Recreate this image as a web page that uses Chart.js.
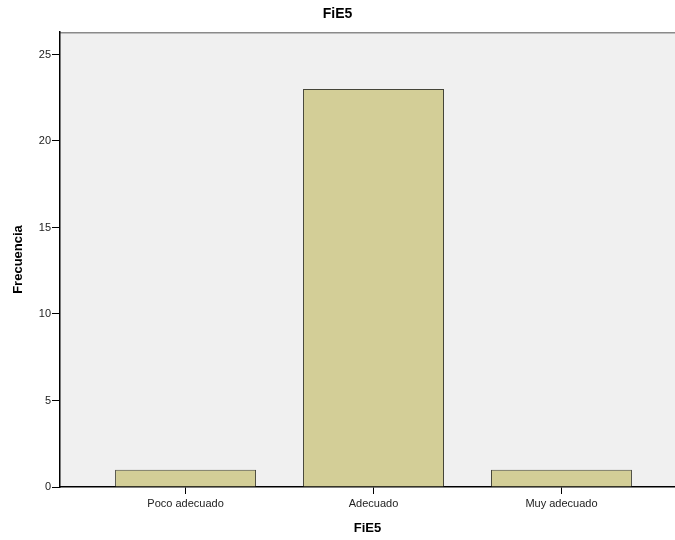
<!DOCTYPE html>
<html>
<head>
<meta charset="utf-8">
<script src="https://cdn.jsdelivr.net/npm/chart.js@4"></script>
<style>
  html, body { margin: 0; padding: 0; background: #fff; }
  #wrap { width: 675px; height: 540px; }
</style>
</head>
<body>
<div id="wrap"><canvas id="fie5Chart" width="675" height="540"></canvas></div>
<script>
const categories = ['Poco adecuado', 'Adecuado', 'Muy adecuado'];
const frecuencias = [1, 23, 1];
const yTicks = [0, 5, 10, 15, 20, 25];

const FONT = '"Liberation Sans", Arial, sans-serif';

// plot background + grey top frame
const plotFrame = {
  id: 'plotFrame',
  beforeDraw(chart) {
    const { ctx, chartArea: a } = chart;
    ctx.save();
    ctx.fillStyle = '#f0f0f0';
    ctx.fillRect(a.left, a.top, a.right - a.left, a.bottom - a.top);
    ctx.strokeStyle = '#8a8a8a';
    ctx.lineWidth = 1.5;
    ctx.beginPath();
    ctx.moveTo(a.left, a.top + 0.75);
    ctx.lineTo(a.right, a.top + 0.75);
    ctx.stroke();
    ctx.restore();
  }
};

const ctx = document.getElementById('fie5Chart').getContext('2d');

new Chart(ctx, {
  type: 'bar',
  data: {
    datasets: [{
      label: 'FiE5',
      data: frecuencias.map((v, i) => ({ x: i, y: v })),
      backgroundColor: '#d3ce97',
      borderColor: '#454539',
      borderWidth: 1,
      barPercentage: 0.75,
      categoryPercentage: 1
    }]
  },
  options: {
    responsive: false,
    animation: false,
    layout: { padding: 0 },
    plugins: {
      legend: { display: false },
      tooltip: { enabled: false },
      title: {
        display: true,
        text: 'FiE5',
        color: '#000',
        font: { family: FONT, size: 14, weight: 'bold' },
        padding: { top: 6, bottom: 9.2 }
      }
    },
    scales: {
      x: {
        type: 'linear',
        min: -0.668,
        max: 2.604,
        offset: false,
        afterBuildTicks: (scale) => {
          scale.ticks = categories.map((c, i) => ({ value: i }));
        },
        afterFit: (scale) => { scale.height = 53; },
        ticks: {
          autoSkip: false,
          maxRotation: 0,
          padding: 3,
          color: '#222',
          font: { family: FONT, size: 11 },
          callback: (value) => categories[value] ?? ''
        },
        grid: { offset: false, drawOnChartArea: false, drawTicks: true, tickLength: 7, color: '#000' },
        border: { display: true, color: '#000', width: 1.5 },
        title: {
          display: true,
          text: 'FiE5',
          color: '#000',
          font: { family: FONT, size: 13, weight: 'bold' },
          padding: { top: 0, bottom: 4 }
        }
      },
      y: {
        min: 0,
        max: 26.3,
        afterBuildTicks: (scale) => {
          scale.ticks = yTicks.map(v => ({ value: v }));
        },
        afterFit: (scale) => { scale.width = 60; },
        ticks: {
          padding: 1,
          color: '#222',
          font: { family: FONT, size: 11 }
        },
        grid: { drawOnChartArea: false, drawTicks: true, tickLength: 8, color: '#000' },
        border: { display: true, color: '#000', width: 1.5 },
        title: {
          display: true,
          text: 'Frecuencia',
          color: '#000',
          font: { family: FONT, size: 13, weight: 'bold' },
          padding: { top: 11, bottom: 0 }
        }
      }
    }
  },
  plugins: [plotFrame]
});
</script>
</body>
</html>
